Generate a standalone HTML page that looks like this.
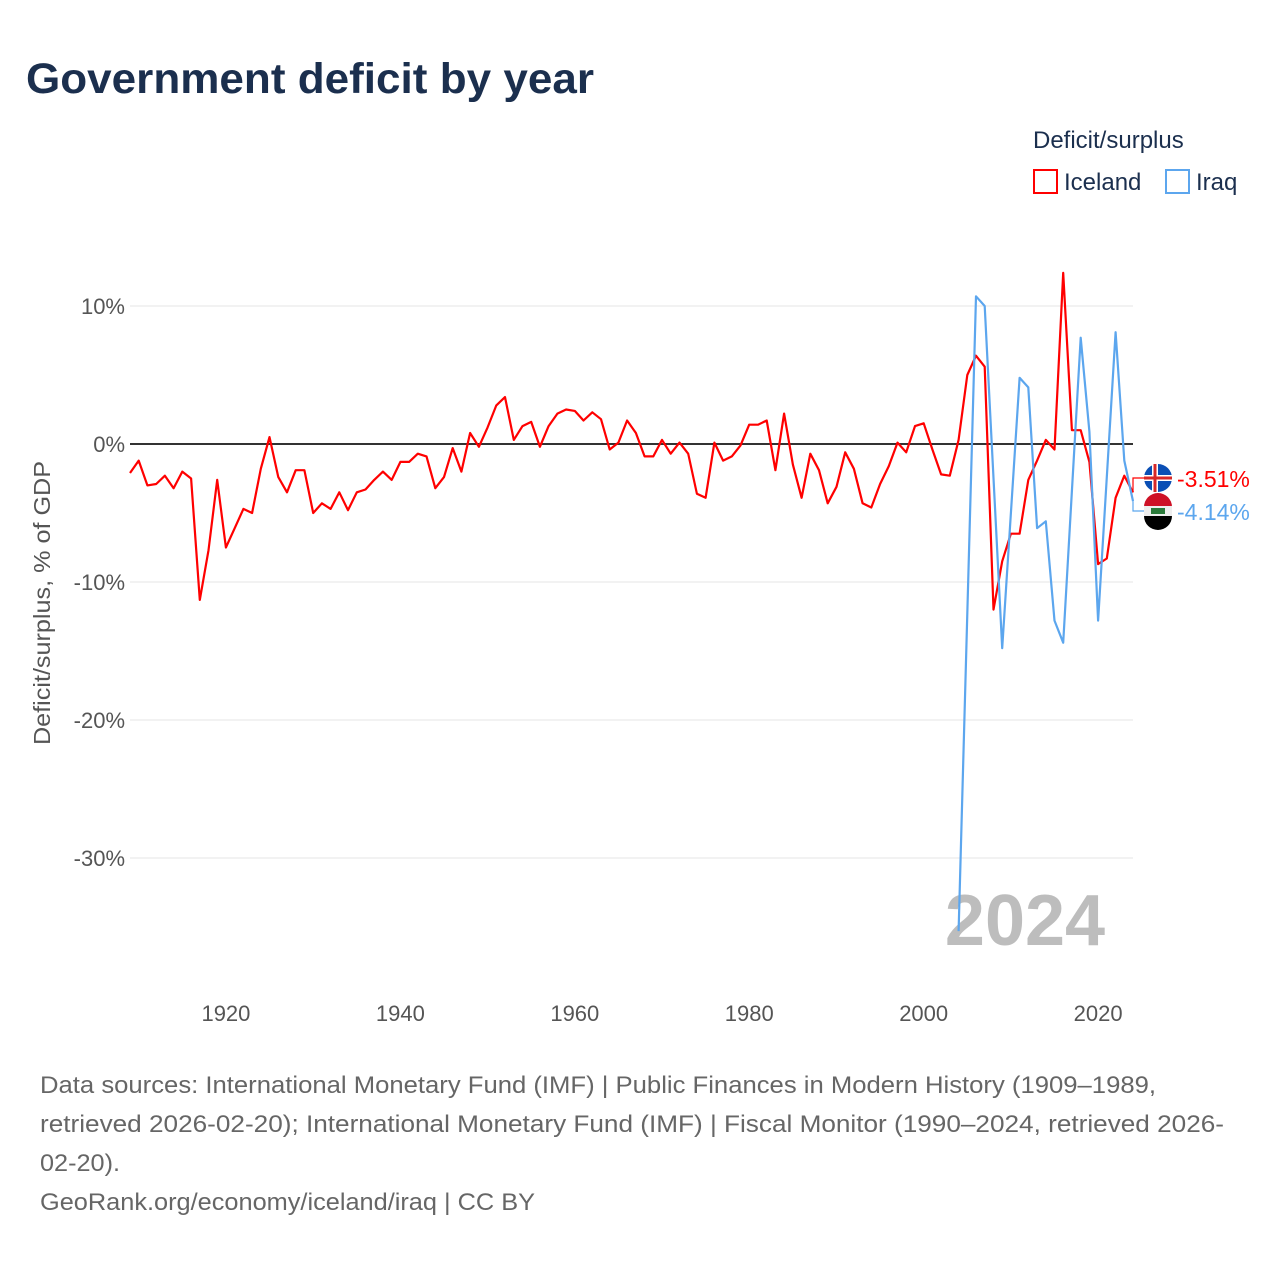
<!DOCTYPE html>
<html><head><meta charset="utf-8">
<style>
body{margin:0;background:#fff;font-family:"Liberation Sans",sans-serif;}
#wrap{position:relative;width:1280px;height:1280px;overflow:hidden;}
</style></head>
<body>
<div id="wrap">
<svg id="chart" width="1280" height="1280" xmlns="http://www.w3.org/2000/svg">
<text x="26" y="93" font-size="43" font-weight="bold" fill="#1b2f4e" textLength="568" lengthAdjust="spacingAndGlyphs">Government deficit by year</text>
<text x="1033" y="148" font-size="24" fill="#1b2f4e">Deficit/surplus</text>
<g>
<rect x="1034" y="170" width="23" height="23" fill="none" stroke="#f00" stroke-width="2"/>
<text x="1064" y="190" font-size="24" fill="#1b2f4e">Iceland</text></g>
<g>
<rect x="1166" y="170" width="23" height="23" fill="none" stroke="#5ca6ee" stroke-width="2"/>
<text x="1196" y="190" font-size="24" fill="#1b2f4e">Iraq</text></g>
<g id="grid"></g>
<text x="50" y="603" font-size="23" fill="#555" transform="rotate(-90 50 603)" text-anchor="middle" textLength="284" lengthAdjust="spacingAndGlyphs">Deficit/surplus, % of GDP</text>
<text x="1025" y="945" font-size="72" font-weight="bold" fill="#bdbdbd" text-anchor="middle">2024</text>
<g id="series"></g>
<g id="labels"></g>
<text x="40" y="1093" font-size="24" fill="#666" textLength="1116" lengthAdjust="spacingAndGlyphs">Data sources: International Monetary Fund (IMF) | Public Finances in Modern History (1909–1989,</text>
<text x="40" y="1132" font-size="24" fill="#666" textLength="1184" lengthAdjust="spacingAndGlyphs">retrieved 2026-02-20); International Monetary Fund (IMF) | Fiscal Monitor (1990–2024, retrieved 2026-</text>
<text x="40" y="1171" font-size="24" fill="#666" textLength="80" lengthAdjust="spacingAndGlyphs">02-20).</text>
<text x="40" y="1210" font-size="24" fill="#666" textLength="495" lengthAdjust="spacingAndGlyphs">GeoRank.org/economy/iceland/iraq | CC BY</text>
</svg>
</div>
<script>
const icelandStart = 1909;
const icelandValues = [-2.1,-1.2,-3.0,-2.9,-2.3,-3.2,-2.0,-2.5,-11.3,-7.7,-2.6,-7.5,-6.1,-4.7,-5.0,-1.8,0.5,-2.4,-3.5,-1.9,-1.9,-5.0,-4.3,-4.7,-3.5,-4.8,-3.5,-3.3,-2.6,-2.0,-2.6,-1.3,-1.3,-0.7,-0.9,-3.2,-2.4,-0.3,-2.0,0.8,-0.2,1.2,2.8,3.4,0.3,1.3,1.6,-0.2,1.3,2.2,2.5,2.4,1.7,2.3,1.8,-0.4,0.1,1.7,0.8,-0.9,-0.9,0.3,-0.7,0.1,-0.7,-3.6,-3.9,0.1,-1.2,-0.9,-0.1,1.4,1.4,1.7,-1.9,2.2,-1.5,-3.9,-0.7,-1.9,-4.3,-3.1,-0.6,-1.8,-4.3,-4.6,-2.9,-1.6,0.1,-0.6,1.3,1.5,-0.4,-2.2,-2.3,0.3,5.0,6.4,5.6,-12.0,-8.5,-6.5,-6.5,-2.6,-1.2,0.3,-0.4,12.4,1.0,1.0,-1.3,-8.7,-8.3,-3.9,-2.3,-3.51];
const iraqStart = 2004;
const iraqValues = [-35.3,null,10.7,10.0,null,-14.8,null,4.8,4.1,-6.1,-5.6,-12.8,-14.4,null,7.7,0.9,-12.8,null,8.1,-1.2,-4.14];
const yTicks = [10,0,-10,-20,-30];
const yTickLabels = ["10%","0%","-10%","-20%","-30%"];
const xTicks = [1920,1940,1960,1980,2000,2020];
const endLabels = ["-3.51%","-4.14%"];

const X = y => 130 + (y - 1909) * (1003 / 115);
const Y = v => 444 - v * 13.8;
const NS = "http://www.w3.org/2000/svg";
function mk(tag, attrs, parent){const e=document.createElementNS(NS,tag);for(const k in attrs)e.setAttribute(k,attrs[k]);parent.appendChild(e);return e;}
const grid=document.getElementById('grid');
yTicks.forEach((t,i)=>{
  const l=mk('line',{x1:130,x2:1133,y1:Y(t),y2:Y(t),stroke:t===0?'#333':'#e6e6e6','stroke-width':t===0?2:1},grid);
  
  
  const tx=mk('text',{x:125,y:Y(t)+8,'font-size':22,fill:'#555','text-anchor':'end'},grid);
  tx.textContent=yTickLabels[i];
  
  
});
xTicks.forEach(t=>{
  const tx=mk('text',{x:X(t),y:1021,'font-size':22,fill:'#555','text-anchor':'middle'},grid);
  tx.textContent=t;
  
  
});
function pathFor(start, vals){
  let d='';vals.forEach((v,i)=>{if(v===null)return;d+=(d?'L':'M')+X(start+i).toFixed(1)+','+Y(v).toFixed(1);});return d;
}
const s=document.getElementById('series');
const pi=mk('path',{d:pathFor(icelandStart,icelandValues),fill:'none',stroke:'#f00','stroke-width':2.2,'stroke-linejoin':'round'},s);


const pq=mk('path',{d:pathFor(iraqStart,iraqValues),fill:'none',stroke:'#5ca6ee','stroke-width':2.2,'stroke-linejoin':'round'},s);


const lb=document.getElementById('labels');
const lastI=icelandValues[icelandValues.length-1], lastQ=iraqValues[iraqValues.length-1];
const ex=X(2024);
const cfg=[{v:lastI,ly:478,col:'#f00',txt:endLabels[0],n:'iceland'},{v:lastQ,ly:511,col:'#5ca6ee',txt:endLabels[1],n:'iraq'}];
cfg.forEach(c=>{
  const p=mk('path',{d:`M${ex},${Y(c.v)}V${c.ly}H1146`,fill:'none',stroke:c.col,'stroke-width':1.2},lb);
  
  
  const g=mk('g',{},lb);
  
  
  if(c.n==='iceland'){
    mk('circle',{cx:1158,cy:c.ly,r:14,fill:'#0a4fb5'},g);
    mk('rect',{x:1144,y:c.ly-3,width:28,height:6,fill:'#fff'},g);
    mk('rect',{x:1152,y:c.ly-14,width:6,height:28,fill:'#fff'},g);
    mk('rect',{x:1144,y:c.ly-1.5,width:28,height:3,fill:'#d72828'},g);
    mk('rect',{x:1153.5,y:c.ly-14,width:3,height:28,fill:'#d72828'},g);
  } else {
    mk('path',{d:`M1144,${c.ly-4}A14,14 0 0 1 1172,${c.ly-4}Z`,fill:'#ce1126'},g);
    mk('rect',{x:1144,y:c.ly-5,width:28,height:10,fill:'#eee'},g);
    mk('path',{d:`M1144,${c.ly+5}A14,14 0 0 0 1172,${c.ly+5}Z`,fill:'#000'},g);
    mk('rect',{x:1151,y:c.ly-3,width:14,height:6,fill:'#2a7a3a'},g);
  }
  const t=mk('text',{x:1177,y:c.ly+9,'font-size':23,fill:c.col},lb);
  t.textContent=c.txt;
  
  
});
</script>
</body></html>
